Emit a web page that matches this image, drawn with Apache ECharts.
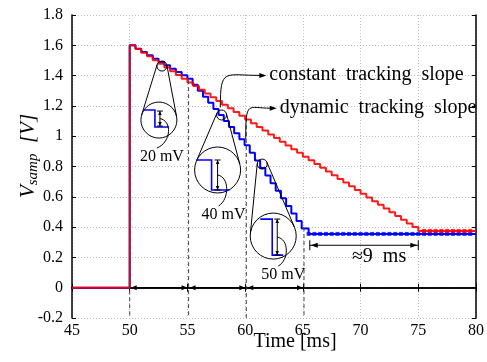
<!DOCTYPE html>
<html>
<head>
<meta charset="utf-8">
<script src="https://cdn.jsdelivr.net/npm/echarts/dist/echarts.min.js"></script>
<style>
  html, body { margin: 0; padding: 0; background: #fff; }
  #chart { width: 487px; height: 362px; }
</style>
</head>
<body>
<div id="chart"></div>
<script>
// Axis ticks
const xMin = 45, xMax = 80, xStep = 5;
const yMin = -0.2, yMax = 1.8, yStep = 0.2;
const xTickLabels = ['45', '50', '55', '60', '65', '70', '75', '80'];
const yTickLabels = ['-0.2', '0', '0.2', '0.4', '0.6', '0.8', '1', '1.2', '1.4', '1.6', '1.8'];

// Constant tracking slope: step edge times [ms] and the level held after each edge [V]
const constTimes = [45, 50, 50.5, 51, 51.5, 52, 52.5, 53, 53.5, 54, 54.5, 55,
  55.5, 56, 56.5, 57, 57.5, 58, 58.5, 59, 59.5, 60,
  60.5, 61, 61.5, 62, 62.5, 63, 63.5, 64, 64.5, 65,
  65.5, 66, 66.5, 67, 67.5, 68, 68.5, 69, 69.5, 70,
  70.5, 71, 71.5, 72, 72.5, 73, 73.5, 74, 74.5, 75, 80];
const constLevels = [0, 1.600, 1.576, 1.551, 1.527, 1.502, 1.478, 1.453, 1.429, 1.404, 1.380, 1.355,
  1.331, 1.306, 1.282, 1.257, 1.233, 1.208, 1.184, 1.159, 1.135, 1.110,
  1.086, 1.061, 1.037, 1.012, 0.988, 0.963, 0.939, 0.914, 0.890, 0.865,
  0.841, 0.816, 0.792, 0.767, 0.743, 0.718, 0.694, 0.669, 0.645, 0.620,
  0.596, 0.571, 0.547, 0.522, 0.498, 0.473, 0.449, 0.424, 0.400, 0.375, 0.375];

// Dynamic tracking slope: 20 mV, then 40 mV, then 50 mV steps
const dynTimes = [45, 50, 50.5, 51, 51.5, 52, 52.5, 53, 53.5, 54, 54.5, 55,
  55.45, 55.9, 56.35, 56.8, 57.25, 57.7, 58.15, 58.6, 59.05, 59.5, 59.95,
  60.4, 60.85, 61.3, 61.75, 62.2, 62.65, 63.1, 63.55, 64.0, 64.45, 64.9, 65.5, 80];
const dynLevels = [0, 1.600, 1.578, 1.556, 1.534, 1.512, 1.490, 1.468, 1.446, 1.424, 1.402, 1.380,
  1.340, 1.300, 1.260, 1.220, 1.180, 1.140, 1.100, 1.060, 1.020, 0.980, 0.940,
  0.890, 0.840, 0.790, 0.740, 0.690, 0.640, 0.590, 0.540, 0.490, 0.440, 0.390, 0.355, 0.355];

// Sample markers on the settled levels
const constSettleTimes = [75.5, 76, 76.5, 77, 77.5, 78, 78.5, 79, 79.5];
const constSettleLevel = 0.375;
const dynSettleTimes = [65.5, 66, 66.5, 67, 67.5, 68, 68.5, 69, 69.5, 70, 70.5, 71, 71.5, 72, 72.5,
  73, 73.5, 74, 74.5, 75, 75.5, 76, 76.5, 77, 77.5, 78, 78.5, 79, 79.5];
const dynSettleLevel = 0.355;

const serif = '"Liberation Serif", "DejaVu Serif", "Times New Roman", serif';
const RED = '#ff0000', BLUE = '#0000ff';

const chart = echarts.init(document.getElementById('chart'), null, { renderer: 'canvas' });

const frameAxis = {
  type: 'value',
  axisLine: { show: true, lineStyle: { color: '#000', width: 1.5 } },
  axisTick: { show: true, inside: true, length: 4, lineStyle: { color: '#000', width: 1 } },
  splitLine: { show: false }
};

const option = {
  animation: false,
  backgroundColor: '#fff',
  grid: { left: 72, right: 6, top: 15, bottom: 44 },
  xAxis: [
    Object.assign({}, frameAxis, {
      min: xMin, max: xMax, interval: xStep, position: 'bottom',
      axisLabel: {
        color: '#000', fontFamily: serif, fontSize: 16, margin: 5,
        formatter: v => xTickLabels[Math.round((v - xMin) / xStep)]
      },
      splitLine: { show: true, lineStyle: { color: '#bdbdbd', type: [1, 2], width: 1 } }
    }),
    Object.assign({}, frameAxis, {
      min: xMin, max: xMax, interval: xStep, position: 'top', axisLabel: { show: false }
    })
  ],
  yAxis: [
    Object.assign({}, frameAxis, {
      min: yMin, max: yMax, interval: yStep, position: 'left',
      axisLabel: {
        color: '#000', fontFamily: serif, fontSize: 16, margin: 9,
        formatter: v => yTickLabels[Math.round((v - yMin) / yStep)]
      },
      splitLine: { show: true, lineStyle: { color: '#bdbdbd', type: [1, 2], width: 1 } }
    }),
    Object.assign({}, frameAxis, {
      min: yMin, max: yMax, interval: yStep, position: 'right', axisLabel: { show: false }
    })
  ],
  series: [
    {
      name: 'dynamic tracking slope', type: 'line', step: 'end', z: 3,
      data: dynTimes.map((t, i) => [t, dynLevels[i]]),
      showSymbol: false, symbol: 'none',
      lineStyle: { color: BLUE, width: 2 }
    },
    {
      name: 'constant tracking slope', type: 'line', step: 'end', z: 4,
      data: constTimes.map((t, i) => [t, constLevels[i]]),
      showSymbol: false, symbol: 'none',
      lineStyle: { color: RED, width: 2, opacity: 0.9 }
    },
    {
      type: 'scatter', z: 5, symbol: 'rect', symbolSize: 4,
      data: dynSettleTimes.map(t => [t, dynSettleLevel]),
      itemStyle: { color: BLUE }
    },
    {
      type: 'scatter', z: 5, symbol: 'rect', symbolSize: 4,
      data: constSettleTimes.map(t => [t, constSettleLevel]),
      itemStyle: { color: RED }
    }
  ]
};

chart.setOption(option);

// ---- annotations ----
const P = (t, v) => chart.convertToPixel({ gridIndex: 0 }, [t, v]);
const ink = { stroke: '#000', lineWidth: 1, fill: null };
const g = [];

function head(x, y, ang, len, w) {
  const c = Math.cos(ang), s = Math.sin(ang);
  const bx = x - len * c, by = y - len * s;
  return { type: 'polygon', z: 100,
    shape: { points: [[x, y], [bx - w * s, by + w * c], [bx + w * s, by - w * c]] },
    style: { fill: '#000', stroke: null } };
}
function seg(x1, y1, x2, y2, extra) {
  return { type: 'line', z: 100, shape: { x1, y1, x2, y2 }, style: Object.assign({}, ink, extra || {}) };
}
function label(text, x, y, size, align) {
  return { type: 'text', z: 100, x, y,
    style: { text, fill: '#000', font: size + 'px ' + serif, align: align || 'center', verticalAlign: 'middle' } };
}

// dashed markers for the tracking phases
const phaseMarks = [[50, 1.6], [55.1, 1.37], [60.1, 1.12], [65.1, 0.40]];
phaseMarks.forEach(([t, v]) => {
  const a = P(t, v), b = P(t, yMin);
  g.push(seg(a[0], a[1], b[0], b[1], { stroke: '#444', lineDash: [4, 3] }));
});

// phase duration arrows along 0 V
for (let i = 0; i < phaseMarks.length - 1; i++) {
  const a = P(phaseMarks[i][0], 0), b = P(phaseMarks[i + 1][0], 0);
  g.push(seg(a[0] + 1, a[1], b[0] - 1, b[1]));
  g.push(head(a[0] + 1, a[1], Math.PI, 6, 2.5));
  g.push(head(b[0] - 1, b[1], 0, 6, 2.5));
}

// settling-time difference arrow
{
  const a = P(65.6, 0.28), b = P(75.0, 0.28);
  g.push(seg(a[0], a[1], b[0], b[1]));
  g.push(seg(a[0], a[1] - 5, a[0], a[1] + 5));
  g.push(seg(b[0], b[1] - 5, b[0], b[1] + 5));
  g.push(head(a[0] + 1, a[1], Math.PI, 7, 2.5));
  g.push(head(b[0] - 1, b[1], 0, 7, 2.5));
  g.push(label('\u22489\u2002ms', (a[0] + b[0]) / 2 + 15, a[1] + 11, 20));
}

// callouts to the two curves
{
  const s = P(57.85, 1.19);
  const tip = [s[0] + 46, s[1] - 32];
  g.push({ type: 'bezierCurve', z: 100,
    shape: { x1: s[0], y1: s[1], cpx1: s[0], cpy1: s[1] - 40, cpx2: s[0] + 4, cpy2: tip[1], x2: tip[0] - 6, y2: tip[1] },
    style: ink });
  g.push(head(tip[0], tip[1], 0, 7, 2.5));
  g.push(label('constant\u2002tracking\u2002slope', tip[0] + 3, tip[1] - 1, 20, 'left'));
}
{
  const s = P(60.05, 0.98);
  const tip = [s[0] + 31, s[1] - 31];
  g.push({ type: 'bezierCurve', z: 100,
    shape: { x1: s[0], y1: s[1], cpx1: s[0], cpy1: s[1] - 40, cpx2: s[0] + 2, cpy2: tip[1], x2: tip[0] - 6, y2: tip[1] },
    style: ink });
  g.push(head(tip[0], tip[1], 0, 7, 2.5));
  g.push(label('dynamic\u2002tracking\u2002slope', tip[0] + 3, tip[1], 20, 'left'));
}

// magnified views of single steps
const magnifiers = [
  { t: 52.79, v: 1.463, dx: -3, dy: 54, R: 18,
    step: [[-15, -10], [-4, -10], [-4, 7], [10, 7]], ax: 1, a0: -9, a1: 6, lab: '20 mV', lx: 3, ly: 37 },
  { t: 57.96, v: 1.14, dx: -4, dy: 55, R: 23,
    step: [[-21, -10], [-6, -10], [-6, 20], [12, 20]], ax: 0, a0: -10, a1: 20, lab: '40 mV', lx: 6, ly: 45 },
  { t: 61.48, v: 0.816, dx: 11, dy: 72, R: 23,
    step: [[-13, -17], [-1, -17], [-1, 19], [10, 19]], ax: 4, a0: -17, a1: 19, lab: '50 mV', lx: 10, ly: 39 }
];
magnifiers.forEach(m => {
  const [sx, sy] = P(m.t, m.v);
  const cx = sx + m.dx, cy = sy + m.dy, r1 = 5, r2 = m.R;
  g.push({ type: 'circle', z: 99, shape: { cx, cy, r: r2 }, style: { stroke: '#000', lineWidth: 1, fill: '#fff' } });
  g.push({ type: 'circle', z: 100, shape: { cx: sx, cy: sy, r: r1 }, style: { stroke: '#000', lineWidth: 1, fill: null } });
  const D = Math.hypot(cx - sx, cy - sy), th = Math.atan2(cy - sy, cx - sx);
  const al = Math.acos((r1 - r2) / D);
  [th + al, th - al].forEach(a => {
    const nx = Math.cos(a), ny = Math.sin(a);
    g.push(seg(sx + r1 * nx, sy + r1 * ny, cx + r2 * nx, cy + r2 * ny));
  });
  g.push({ type: 'polyline', z: 100, shape: { points: m.step.map(p => [cx + p[0], cy + p[1]]) },
    style: { stroke: BLUE, lineWidth: 1.6, fill: null } });
  const ax = cx + m.ax, y0 = cy + m.a0, y1 = cy + m.a1;
  g.push(seg(ax, y0, ax, y1));
  g.push(seg(ax - 3, y0, ax + 3, y0));
  g.push(seg(ax - 3, y1, ax + 3, y1));
  g.push(head(ax, y0, -Math.PI / 2, 4, 1.8));
  g.push(head(ax, y1, Math.PI / 2, 4, 1.8));
  const my = (y0 + y1) / 2, lx = cx + m.lx, ly = cy + m.ly;
  g.push({ type: 'bezierCurve', z: 100,
    shape: { x1: ax, y1: my, cpx1: ax + 12, cpy1: my + 2, cpx2: ax + 12, cpy2: my + (ly - my) * 0.6, x2: lx - 5, y2: ly - 9 },
    style: ink });
  g.push(label(m.lab, lx, ly, 16));
});

// axis titles
g.push(label('Time [ms]', 295, 342, 20));
g.push({ type: 'text', z: 100, x: 28, y: 156, rotation: Math.PI / 2,
  style: {
    text: '{v|V}{s|samp}{v|\u2002[V]}',
    align: 'center', verticalAlign: 'middle',
    rich: {
      v: { fontFamily: serif, fontSize: 21, lineHeight: 26, verticalAlign: 'middle', fill: '#000', fontStyle: 'italic' },
      s: { fontFamily: serif, fontSize: 15, lineHeight: 26, verticalAlign: 'bottom', fill: '#000', fontStyle: 'italic' }
    }
  } });

chart.setOption({ graphic: { elements: g } });
</script>
</body>
</html>
